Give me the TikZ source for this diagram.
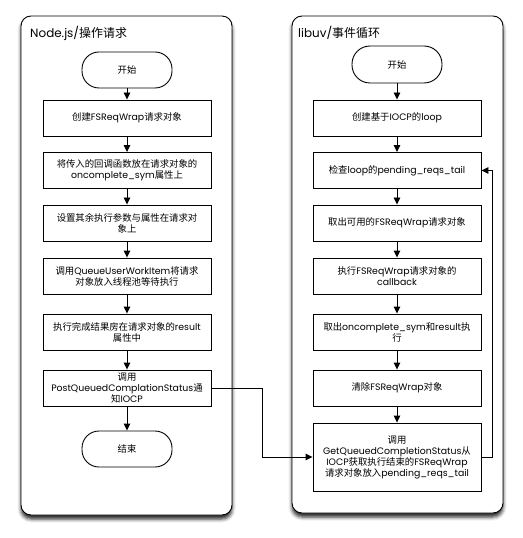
\documentclass[tikz,border=0pt]{standalone}
\usepackage{fontspec}
\setmainfont{Poppins}
\newfontfamily\cjkfont{Noto Sans CJK SC}
\newcommand\zh[1]{{\cjkfont #1}}
\usetikzlibrary{arrows.meta,shadows.blur}
\begin{document}
\begin{tikzpicture}[x=1bp,y=-1bp,
  lane/.style={draw=black,line width=0.9bp,fill=white,rounded corners=10bp,
    blur shadow={shadow xshift=0bp,shadow yshift=-4bp,shadow blur radius=3.5bp,shadow opacity=85}},
  lanetitle/.style={anchor=west,inner sep=0pt,font=\fontsize{12}{14}\selectfont},
  stepbox/.style={draw=black,line width=0.9bp,fill=white,minimum width=168bp,minimum height=36bp,
    inner sep=1bp,align=center,font=\fontsize{9.4}{11}\selectfont},
  terminal/.style={draw=black,line width=0.9bp,fill=white,minimum width=90bp,minimum height=36bp,
    rounded corners=17bp,inner sep=0pt,font=\fontsize{9.4}{11}\selectfont},
  flow/.style={draw=black,line width=0.9bp,-{Triangle[width=6.5bp,length=7bp]}}]
\useasboundingbox (0,0) rectangle (523,538);

% swim lanes
\path[lane] (21,16) rectangle (232,515);
\path[lane] (292,16) rectangle (503,513);
\node[lanetitle] (lt) at (30,33) {Node.js/\zh{操作请求}};
\node[lanetitle] (rt) at (298,33) {libuv/\zh{事件循环}};

% Node.js side
\node[terminal] (ls) at (127,70) {\zh{开始}};
\node[stepbox] (l1) at (127,118) {\zh{创建}FSReqWrap\zh{请求对象}};
\node[stepbox] (l2) at (127,170.5) {\zh{将传入的回调函数放在请求对象的}\\oncomplete\_sym\zh{属性上}};
\node[stepbox] (l3) at (127,223) {\zh{设置其余执行参数与属性在请求对}\\\zh{象上}};
\node[stepbox] (l4) at (127,276) {\zh{调用}QueueUserWorkItem\zh{将请求}\\\zh{对象放入线程池等待执行}};
\node[stepbox] (l5) at (127,332) {\zh{执行完成结果房在请求对象的}result\\\zh{属性中}};
\node[stepbox] (l6) at (127,388) {\zh{调用}\\PostQueuedComplationStatus\zh{通}\\\zh{知}IOCP};
\node[terminal] (le) at (127,449) {\zh{结束}};

% libuv side
\node[terminal,minimum height=37bp,rounded corners=18bp] (rs) at (397,64.5) {\zh{开始}};
\node[stepbox] (r1) at (397,118) {\zh{创建基于}IOCP\zh{的}loop};
\node[stepbox] (r2) at (397,170.5) {\zh{检查}loop\zh{的}pending\_reqs\_tail};
\node[stepbox] (r3) at (397,223) {\zh{取出可用的}FSReqWrap\zh{请求对象}};
\node[stepbox] (r4) at (397,276) {\zh{执行}FSReqWrap\zh{请求对象的}\\callback};
\node[stepbox] (r5) at (397,332) {\zh{取出}oncomplete\_sym\zh{和}result\zh{执}\\\zh{行}};
\node[stepbox] (r6) at (397,388) {\zh{清除}FSReqWrap\zh{对象}};
\node[stepbox,minimum height=68bp] (r7) at (397,457) {\zh{调用}\\GetQueuedCompletionStatus\zh{从}\\IOCP\zh{获取执行结束的}FSReqWrap\\\zh{请求对象放入}pending\_reqs\_tail};

% connectors
\draw[flow] (ls) -- (l1);
\draw[flow] (l1) -- (l2);
\draw[flow] (l2) -- (l3);
\draw[flow] (l3) -- (l4);
\draw[flow] (l4) -- (l5);
\draw[flow] (l5) -- (l6);
\draw[flow] (l6) -- (le);
\draw[flow] (rs) -- (r1);
\draw[flow] (r1) -- (r2);
\draw[flow] (r2) -- (r3);
\draw[flow] (r3) -- (r4);
\draw[flow] (r4) -- (r5);
\draw[flow] (r5) -- (r6);
\draw[flow] (r6) -- (r7);
\draw[flow] (l6.east) -- (262,388) |- (r7.west);
\draw[flow] (r7.east) -- (492,457) |- (r2.east);
\end{tikzpicture}
\end{document}
